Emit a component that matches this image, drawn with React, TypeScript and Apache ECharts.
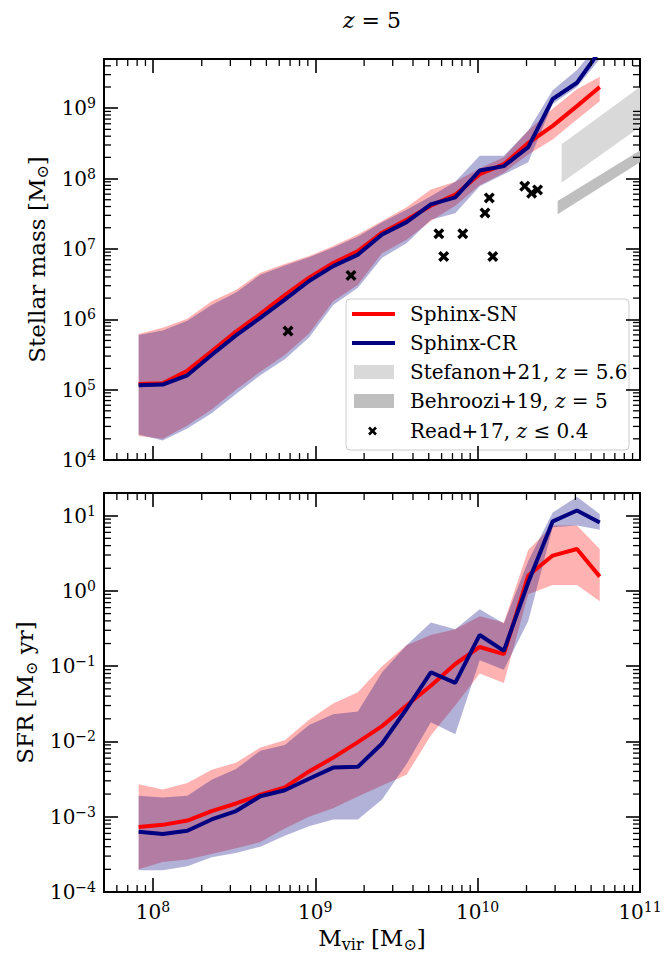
import React, { useEffect, useRef } from 'react';
import * as echarts from 'echarts';

// ---------------- data ----------------
const haloMass = [8.17e7, 1.15e8, 1.63e8, 2.30e8, 3.25e8, 4.59e8, 6.49e8, 9.16e8, 1.29e9, 1.83e9, 2.58e9, 3.65e9, 5.15e9, 7.28e9, 1.03e10, 1.45e10, 2.05e10, 2.90e10, 4.09e10, 5.65e10];

const snMstar = [1.2e5, 1.23e5, 1.86e5, 3.5e5, 6.7e5, 1.19e6, 2.2e6, 3.9e6, 6.3e6, 9.3e6, 1.7e7, 2.6e7, 4.1e7, 5.9e7, 1.15e8, 1.6e8, 3.2e8, 5.6e8, 1.07e9, 2.0e9];
const snMstarUp = [6.2e5, 7.6e5, 1.02e6, 1.8e6, 2.6e6, 4.6e6, 6.1e6, 7.9e6, 1.1e7, 1.6e7, 2.5e7, 3.9e7, 7.0e7, 9.0e7, 1.4e8, 2.0e8, 4.8e8, 9.8e8, 1.86e9, 2.8e9];
const snMstarLo = [2.2e4, 2.0e4, 3.1e4, 5.2e4, 1.0e5, 1.8e5, 3.1e5, 6.3e5, 1.8e6, 3.1e6, 8.7e6, 1.35e7, 2.5e7, 4.1e7, 8.0e7, 1.2e8, 2.2e8, 3.6e8, 6.9e8, 1.25e9];

const crMstar = [1.15e5, 1.18e5, 1.6e5, 3.1e5, 5.9e5, 1.05e6, 1.9e6, 3.5e6, 5.7e6, 8.3e6, 1.6e7, 2.4e7, 4.3e7, 5.4e7, 1.3e8, 1.5e8, 2.8e8, 1.35e9, 2.3e9, 6.5e9];
const crMstarUp = [6.0e5, 6.9e5, 9.5e5, 1.6e6, 2.4e6, 4.3e6, 5.8e6, 7.6e6, 1.05e7, 1.5e7, 2.4e7, 3.6e7, 5.6e7, 9.0e7, 2.1e8, 2.1e8, 4.8e8, 1.8e9, 3.5e9, 8.5e9];
const crMstarLo = [2.3e4, 1.9e4, 2.8e4, 4.6e4, 8.7e4, 1.6e5, 2.7e5, 5.5e5, 1.6e6, 2.8e6, 7.5e6, 1.2e7, 2.6e7, 3.2e7, 7.8e7, 1.15e8, 1.7e8, 1.15e9, 2.0e9, 5.0e9];

const snSfr = [7.3e-4, 7.8e-4, 8.9e-4, 1.19e-3, 1.5e-3, 1.96e-3, 2.45e-3, 4.0e-3, 6.1e-3, 9.8e-3, 1.6e-2, 3.0e-2, 5.5e-2, 1.07e-1, 1.8e-1, 1.45e-1, 1.6, 2.95, 3.6, 1.55];
const snSfrUp = [2.7e-3, 2.3e-3, 2.8e-3, 4.2e-3, 5.2e-3, 8.3e-3, 1.04e-2, 1.95e-2, 3.2e-2, 4.5e-2, 1.0e-1, 1.9e-1, 2.6e-1, 3.1e-1, 4.6e-1, 3.8e-1, 3.5, 7.4, 7.4, 3.6];
const snSfrLo = [2.0e-4, 2.5e-4, 2.7e-4, 3.2e-4, 3.8e-4, 4.6e-4, 7.0e-4, 1.0e-3, 1.3e-3, 1.85e-3, 2.6e-3, 3.6e-3, 1.2e-2, 3.0e-2, 8.0e-2, 6.0e-2, 0.9, 1.2, 1.2, 0.73];

const crSfr = [6.3e-4, 5.9e-4, 6.5e-4, 9.2e-4, 1.19e-3, 1.87e-3, 2.25e-3, 3.2e-3, 4.5e-3, 4.6e-3, 9.4e-3, 2.7e-2, 8.3e-2, 6.0e-2, 2.6e-1, 1.6e-1, 1.3, 8.4, 11.7, 8.1];
const crSfrUp = [1.9e-3, 1.8e-3, 1.9e-3, 3.1e-3, 4.3e-3, 7.5e-3, 9.0e-3, 1.65e-2, 2.3e-2, 2.5e-2, 8.3e-2, 1.9e-1, 3.8e-1, 3.1e-1, 5.7e-1, 3.7e-1, 2.5, 11, 17.8, 10.5];
const crSfrLo = [1.95e-4, 1.95e-4, 2.2e-4, 2.9e-4, 3.3e-4, 4.0e-4, 5.6e-4, 7.5e-4, 9.2e-4, 9.2e-4, 1.7e-3, 5.0e-3, 1.8e-2, 1.25e-2, 1.2e-1, 9.0e-2, 0.4, 7.0, 7.4, 6.5];

const readMvir = [6.8e8, 1.66e9, 5.77e9, 6.18e9, 8.1e9, 1.11e10, 1.18e10, 1.24e10, 1.95e10, 2.15e10, 2.34e10];
const readMstar = [6.8e5, 4.2e6, 1.64e7, 7.8e6, 1.64e7, 3.25e7, 5.3e7, 7.8e6, 7.8e7, 6.2e7, 6.9e7];

const stefanonMvir = [3.29e10, 1e11];
const stefanonUp = [3.07e8, 2.0e9];
const stefanonLo = [8.7e7, 5.4e8];

const behrooziMvir = [3.11e10, 1e11];
const behrooziUp = [4.8e7, 2.5e8];
const behrooziLo = [3.1e7, 1.7e8];

// axis ranges
const xRange = [5e7, 1e11];
const yRangeTop = [1e4, 5e9];
const yRangeBot = [1e-4, 20];

// ---------------- helpers ----------------
const FONT = 'DejaVu Serif';
const RED = '#ff0000';
const NAVY = '#000080';

function minorValues(lo: number, hi: number) {
  const out: number[] = [];
  for (let e = Math.floor(Math.log10(lo)); e <= Math.ceil(Math.log10(hi)); e++) {
    for (let k = 2; k <= 9; k++) {
      const v = k * Math.pow(10, e);
      if (v > lo * 1.0001 && v < hi * 0.9999) out.push(v);
    }
  }
  return out;
}

const labelFmt = (v: number) => {
  const e = Math.log10(v);
  const r = Math.round(e);
  if (Math.abs(e - r) > 1e-6) return '';
  return `{b|10}{s|${r < 0 ? '\u2212' + -r : r}}`;
};

const labelRich = {
  b: { fontSize: 20, lineHeight: 24, fontFamily: FONT, color: '#000' },
  s: { fontSize: 14, lineHeight: 14, verticalAlign: 'top', fontFamily: FONT, color: '#000' },
};

function axis(gridIndex: number, position: string, range: number[], extra: any = {}) {
  return {
    type: 'log',
    logBase: 10,
    gridIndex,
    position,
    min: range[0],
    max: range[1],
    axisLine: { show: true, onZero: false, lineStyle: { color: '#000', width: 2 } },
    axisTick: { show: true, inside: true, length: 14, lineStyle: { color: '#000', width: 1.6 } },
    splitLine: { show: false },
    minorTick: { show: false },
    axisLabel: { show: false },
    ...extra,
  };
}

function band(name: string, xs: number[], up: number[], lo: number[], fill: string, xi: number, yi: number, z: number) {
  return {
    type: 'custom',
    name,
    xAxisIndex: xi,
    yAxisIndex: yi,
    z,
    clip: true,
    silent: true,
    data: xs.map((x, i) => [x, up[i], lo[i]]),
    encode: { x: 0, y: [1, 2] },
    renderItem: (params: any, api: any) => {
      if (params.dataIndex !== 0) return null;
      const top = xs.map((x, i) => api.coord([x, up[i]]));
      const bot = xs.map((x, i) => api.coord([x, lo[i]])).reverse();
      return { type: 'polygon', shape: { points: top.concat(bot) }, style: { fill } };
    },
  };
}

function line(name: string, xs: number[], ys: number[], color: string, xi: number, yi: number, z: number) {
  return {
    type: 'line',
    name,
    xAxisIndex: xi,
    yAxisIndex: yi,
    z,
    clip: true,
    silent: true,
    showSymbol: false,
    data: xs.map((x, i) => [x, ys[i]]),
    lineStyle: { color, width: 4 },
    itemStyle: { color },
  };
}

function minorTicks(values: number[], dir: 'x' | 'y', xr: number[], yr: number[], xi: number, yi: number) {
  return {
    type: 'custom',
    xAxisIndex: xi,
    yAxisIndex: yi,
    z: 20,
    silent: true,
    data: values.map((v) => (dir === 'x' ? [v, yr[0]] : [xr[0], v])),
    renderItem: (params: any, api: any) => {
      const v = values[params.dataIndex];
      const st = { stroke: '#000', lineWidth: 1.3 };
      if (dir === 'x') {
        const a = api.coord([v, yr[0]]);
        const b = api.coord([v, yr[1]]);
        return {
          type: 'group',
          children: [
            { type: 'line', shape: { x1: a[0], y1: a[1], x2: a[0], y2: a[1] - 7 }, style: st },
            { type: 'line', shape: { x1: b[0], y1: b[1], x2: b[0], y2: b[1] + 7 }, style: st },
          ],
        };
      }
      const a = api.coord([xr[0], v]);
      const b = api.coord([xr[1], v]);
      return {
        type: 'group',
        children: [
          { type: 'line', shape: { x1: a[0], y1: a[1], x2: a[0] + 7, y2: a[1] }, style: st },
          { type: 'line', shape: { x1: b[0], y1: b[1], x2: b[0] - 7, y2: b[1] }, style: st },
        ],
      };
    },
  };
}

const CROSS = 'path://M0,2.2 L2.2,0 L5,2.8 L7.8,0 L10,2.2 L7.2,5 L10,7.8 L7.8,10 L5,7.2 L2.2,10 L0,7.8 L2.8,5 Z';

const nameRich = {
  t: { fontSize: 23, lineHeight: 28, fontFamily: FONT, color: '#000' },
  sub: { fontSize: 16, lineHeight: 16, verticalAlign: 'bottom', fontFamily: FONT, color: '#000' },
};

const titleRich = {
  t: { fontSize: 22, lineHeight: 26, fontFamily: FONT, color: '#000' },
  i: { fontSize: 22, lineHeight: 26, fontFamily: FONT, fontStyle: 'italic', color: '#000' },
};

const legendRich = {
  n: { fontSize: 20, fontFamily: FONT, color: '#000' },
  i: { fontSize: 20, fontFamily: FONT, fontStyle: 'italic', color: '#000' },
};

function legendGraphic() {
  const x0 = 346;
  const y0 = 299;
  const rows = [314, 343, 372, 401, 431];
  const tx = 410;
  const txt = (y: number, text: string) => ({
    type: 'text',
    x: tx,
    y,
    style: { text, rich: legendRich, fontSize: 20, fontFamily: FONT, fill: '#000', align: 'left', verticalAlign: 'middle' },
  });
  return {
    type: 'group',
    z: 100,
    children: [
      { type: 'rect', shape: { x: x0, y: y0, width: 283, height: 151, r: 4 }, style: { fill: 'rgba(255,255,255,0.8)', stroke: '#cccccc', lineWidth: 1 } },
      { type: 'line', shape: { x1: 352, y1: rows[0], x2: 395, y2: rows[0] }, style: { stroke: RED, lineWidth: 4 } },
      txt(rows[0], '{n|Sphinx-SN}'),
      { type: 'line', shape: { x1: 352, y1: rows[1], x2: 395, y2: rows[1] }, style: { stroke: NAVY, lineWidth: 4 } },
      txt(rows[1], '{n|Sphinx-CR}'),
      { type: 'rect', shape: { x: 354, y: rows[2] - 7, width: 40, height: 14 }, style: { fill: '#d9d9d9' } },
      txt(rows[2], '{n|Stefanon+21, }{i|z}{n| = 5.6}'),
      { type: 'rect', shape: { x: 354, y: rows[3] - 7, width: 40, height: 14 }, style: { fill: '#bfbfbf' } },
      txt(rows[3], '{n|Behroozi+19, }{i|z}{n| = 5}'),
      { type: 'line', shape: { x1: 369, y1: rows[4] - 3.5, x2: 376, y2: rows[4] + 3.5 }, style: { stroke: '#000', lineWidth: 2.6 } },
      { type: 'line', shape: { x1: 369, y1: rows[4] + 3.5, x2: 376, y2: rows[4] - 3.5 }, style: { stroke: '#000', lineWidth: 2.6 } },
      txt(rows[4], '{n|Read+17, }{i|z}{n| \u2264 0.4}'),
    ],
  };
}

function buildOption() {
  const xMinor = minorValues(xRange[0], xRange[1]);
  const yMinorTop = minorValues(yRangeTop[0], yRangeTop[1]);
  const yMinorBot = minorValues(yRangeBot[0], yRangeBot[1]);
  return {
    animation: false,
    backgroundColor: '#ffffff',
    textStyle: { fontFamily: FONT },
    grid: [
      { left: 104, top: 59, width: 536, height: 401 },
      { left: 104, top: 493, width: 536, height: 401 },
    ],
    xAxis: [
      axis(0, 'bottom', xRange),
      axis(0, 'top', xRange),
      axis(1, 'bottom', xRange, {
        axisLabel: { show: true, formatter: labelFmt, rich: labelRich, margin: 8 },
        name: '{t|M}{sub|vir}{t| [M}{sub|\u2299}{t|]}',
        nameLocation: 'middle',
        nameGap: 32,
        nameTextStyle: { rich: nameRich },
      }),
      axis(1, 'top', xRange),
    ],
    yAxis: [
      axis(0, 'left', yRangeTop, {
        axisLabel: { show: true, formatter: labelFmt, rich: labelRich, margin: 8, showMinLabel: true, showMaxLabel: true },
        name: '{t|Stellar mass [M}{sub|\u2299}{t|]}',
        nameLocation: 'middle',
        nameGap: 50,
        nameRotate: 90,
        nameTextStyle: { rich: nameRich },
      }),
      axis(0, 'right', yRangeTop),
      axis(1, 'left', yRangeBot, {
        axisLabel: { show: true, formatter: labelFmt, rich: labelRich, margin: 8 },
        name: '{t|SFR [M}{sub|\u2299}{t| yr]}',
        nameLocation: 'middle',
        nameGap: 50,
        nameRotate: 90,
        nameTextStyle: { rich: nameRich },
      }),
      axis(1, 'right', yRangeBot),
    ],
    graphic: [
      {
        type: 'text',
        x: 372,
        y: 20,
        style: {
          text: '{i|z}{t| = 5}',
          rich: titleRich,
          align: 'center',
          verticalAlign: 'middle',
          fill: '#000',
        },
      },
      legendGraphic(),
    ],
    series: [
      band('Stefanon+21', stefanonMvir, stefanonUp, stefanonLo, '#d9d9d9', 0, 0, 1),
      band('Behroozi+19', behrooziMvir, behrooziUp, behrooziLo, '#bfbfbf', 0, 0, 1),
      band('Sphinx-SN band', haloMass, snMstarUp, snMstarLo, 'rgba(255,0,0,0.3)', 0, 0, 2),
      band('Sphinx-CR band', haloMass, crMstarUp, crMstarLo, 'rgba(0,0,128,0.3)', 0, 0, 2),
      line('Sphinx-SN', haloMass, snMstar, RED, 0, 0, 3),
      line('Sphinx-CR', haloMass, crMstar, NAVY, 0, 0, 3),
      {
        type: 'scatter',
        name: 'Read+17',
        xAxisIndex: 0,
        yAxisIndex: 0,
        z: 4,
        symbol: CROSS,
        symbolSize: 11,
        itemStyle: { color: '#000', opacity: 1 },
        data: readMvir.map((m, i) => [m, readMstar[i]]),
      },
      band('Sphinx-SN SFR band', haloMass, snSfrUp, snSfrLo, 'rgba(255,0,0,0.3)', 2, 2, 2),
      band('Sphinx-CR SFR band', haloMass, crSfrUp, crSfrLo, 'rgba(0,0,128,0.3)', 2, 2, 2),
      line('Sphinx-SN SFR', haloMass, snSfr, RED, 2, 2, 3),
      line('Sphinx-CR SFR', haloMass, crSfr, NAVY, 2, 2, 3),
      minorTicks(xMinor, 'x', xRange, yRangeTop, 0, 0),
      minorTicks(yMinorTop, 'y', xRange, yRangeTop, 0, 0),
      minorTicks(xMinor, 'x', xRange, yRangeBot, 2, 2),
      minorTicks(yMinorBot, 'y', xRange, yRangeBot, 2, 2),
    ],
  };
}

export default function App() {
  const ref = useRef<HTMLDivElement>(null);
  useEffect(() => {
    if (!ref.current) return;
    const chart = echarts.init(ref.current, null, { renderer: 'svg' });
    chart.setOption(buildOption() as any);
    return () => chart.dispose();
  }, []);
  return (
    <div
      ref={ref}
      style={{ position: 'fixed', left: 0, top: 0, width: 666, height: 953, background: '#ffffff' }}
    />
  );
}
